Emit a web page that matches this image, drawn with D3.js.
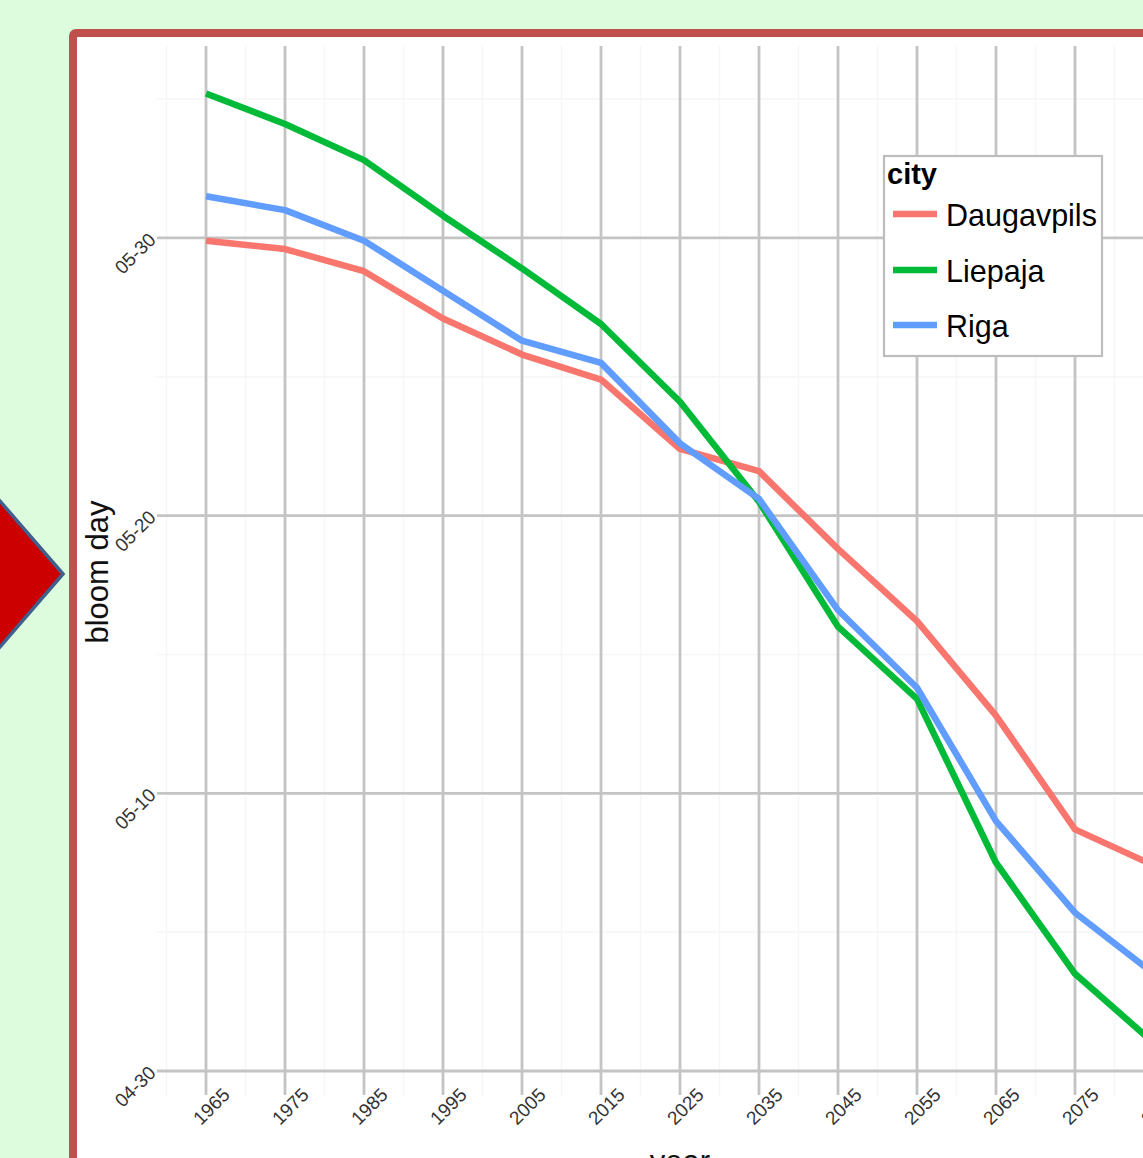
<!DOCTYPE html>
<html>
<head>
<meta charset="utf-8">
<script src="https://cdn.jsdelivr.net/npm/d3@7"></script>
<style>
  html, body { margin: 0; padding: 0; overflow: hidden; background: #ddfcdd; }
  svg { display: block; font-family: "Liberation Sans", Arial, sans-serif; }
</style>
</head>
<body>
<svg id="chart" width="1143" height="1158"></svg>
<script>
// ---- data (bloom day as day-of-year; 120 = 04-30) ----
const years = [1965, 1975, 1985, 1995, 2005, 2015, 2025, 2035, 2045, 2055, 2065, 2075, 2085];
const daugavpils = [149.9, 149.6, 148.8, 147.1, 145.8, 144.9, 142.4, 141.6, 138.8, 136.2, 132.8, 128.7, 127.4];
const liepaja    = [155.2, 154.1, 152.8, 150.8, 148.9, 146.9, 144.1, 140.5, 136.0, 133.4, 127.5, 123.5, 121.0];
const riga       = [151.5, 151.0, 149.9, 148.1, 146.3, 145.5, 142.6, 140.6, 136.6, 133.8, 129.0, 125.7, 123.5];
const cities = ["Daugavpils", "Liepaja", "Riga"];
const cityColors = ["#F8766D", "#00BA38", "#619CFF"];
const yTickDays = [120, 130, 140, 150];
const yTickLabels = ["04-30", "05-10", "05-20", "05-30"];
const yMinorDays = [125, 135, 145, 155];
const xMinorYears = [1960, 1970, 1980, 1990, 2000, 2010, 2020, 2030, 2040, 2050, 2060, 2070, 2080, 2090];
const legendTitle = "city";
const xTitle = "year";
const yTitle = "bloom day";

const series = [daugavpils, liepaja, riga];

const svg = d3.select("#chart");

// background and decorative arrow
svg.append("rect").attr("width", 1143).attr("height", 1158).attr("fill", "#ddfcdd");
svg.append("polygon")
  .attr("points", "63,574 -20,478 -20,670")
  .attr("fill", "#cc0000").attr("stroke", "#3f5f8c").attr("stroke-width", 3.5)
  .attr("stroke-linejoin", "miter");

// red frame
svg.append("rect")
  .attr("x", 73).attr("y", 33).attr("width", 1200).attr("height", 1200)
  .attr("rx", 3).attr("fill", "#ffffff")
  .attr("stroke", "#c0504d").attr("stroke-width", 8);

// panel
const panel = { left: 157, right: 1260, top: 46, bottom: 1097 };
const x = d3.scaleLinear()
  .domain([1965 - (206 - panel.left) / 7.9, 1965 + (panel.right - 206) / 7.9])
  .range([panel.left, panel.right]);
const y = d3.scaleLinear()
  .domain([120 - (panel.bottom - 1071) / 27.77, 120 + (1071 - panel.top) / 27.77])
  .range([panel.bottom, panel.top]);

const g = svg.append("g");

// minor grid
g.selectAll(".xminor").data(xMinorYears).join("line")
  .attr("x1", d => x(d)).attr("x2", d => x(d))
  .attr("y1", panel.top).attr("y2", panel.bottom)
  .attr("stroke", "#f6f6f6").attr("stroke-width", 1.5);
g.selectAll(".yminor").data(yMinorDays).join("line")
  .attr("x1", panel.left).attr("x2", panel.right)
  .attr("y1", d => y(d)).attr("y2", d => y(d))
  .attr("stroke", "#f6f6f6").attr("stroke-width", 1.5);

// major grid
g.selectAll(".xmajor").data(years).join("line")
  .attr("x1", d => x(d)).attr("x2", d => x(d))
  .attr("y1", panel.top).attr("y2", panel.bottom - 2)
  .attr("stroke", "#c4c4c4").attr("stroke-width", 2.8);
g.selectAll(".ymajor").data(yTickDays).join("line")
  .attr("x1", panel.left).attr("x2", panel.right)
  .attr("y1", d => y(d)).attr("y2", d => y(d))
  .attr("stroke", "#c4c4c4").attr("stroke-width", 2.8);

// axis tick labels
g.selectAll(".xlab").data(years).join("text")
  .attr("transform", d => `translate(${x(d) + 25},${panel.bottom - 1}) rotate(-45)`)
  .attr("text-anchor", "end")
  .attr("font-size", 19).attr("fill", "#333")
  .text(d => d);
g.selectAll(".ylab").data(yTickDays).join("text")
  .attr("transform", d => `translate(${panel.left},${y(d) + 3}) rotate(-45)`)
  .attr("text-anchor", "end")
  .attr("font-size", 19).attr("fill", "#333")
  .text((d, i) => yTickLabels[i]);

// axis titles
svg.append("text")
  .attr("x", 680).attr("y", 1172)
  .attr("text-anchor", "middle").attr("font-size", 31).attr("fill", "#111")
  .text(xTitle);
svg.append("text")
  .attr("transform", "translate(108,572) rotate(-90)")
  .attr("text-anchor", "middle").attr("font-size", 31).attr("fill", "#111")
  .text(yTitle);

// lines
const line = d3.line().x((d, i) => x(years[i])).y(d => y(d));
g.selectAll(".series").data(series).join("path")
  .attr("d", d => line(d))
  .attr("fill", "none")
  .attr("stroke", (d, i) => cityColors[i])
  .attr("stroke-width", 6.5)
  .attr("stroke-linejoin", "round");

// legend
const lg = svg.append("g");
lg.append("rect")
  .attr("x", 884).attr("y", 156).attr("width", 218).attr("height", 200)
  .attr("fill", "#fff").attr("stroke", "#bdbdbd").attr("stroke-width", 2.2);
lg.append("text")
  .attr("x", 887).attr("y", 184)
  .attr("font-size", 29).attr("font-weight", "bold").attr("fill", "#000")
  .text(legendTitle);
const baselines = [226, 282, 337];
cities.forEach((c, i) => {
  lg.append("line")
    .attr("x1", 893).attr("x2", 937)
    .attr("y1", baselines[i] - 12).attr("y2", baselines[i] - 12)
    .attr("stroke", cityColors[i]).attr("stroke-width", 6.5);
  lg.append("text")
    .attr("x", 946).attr("y", baselines[i])
    .attr("font-size", 30.5).attr("fill", "#000")
    .text(c);
});
</script>
</body>
</html>
